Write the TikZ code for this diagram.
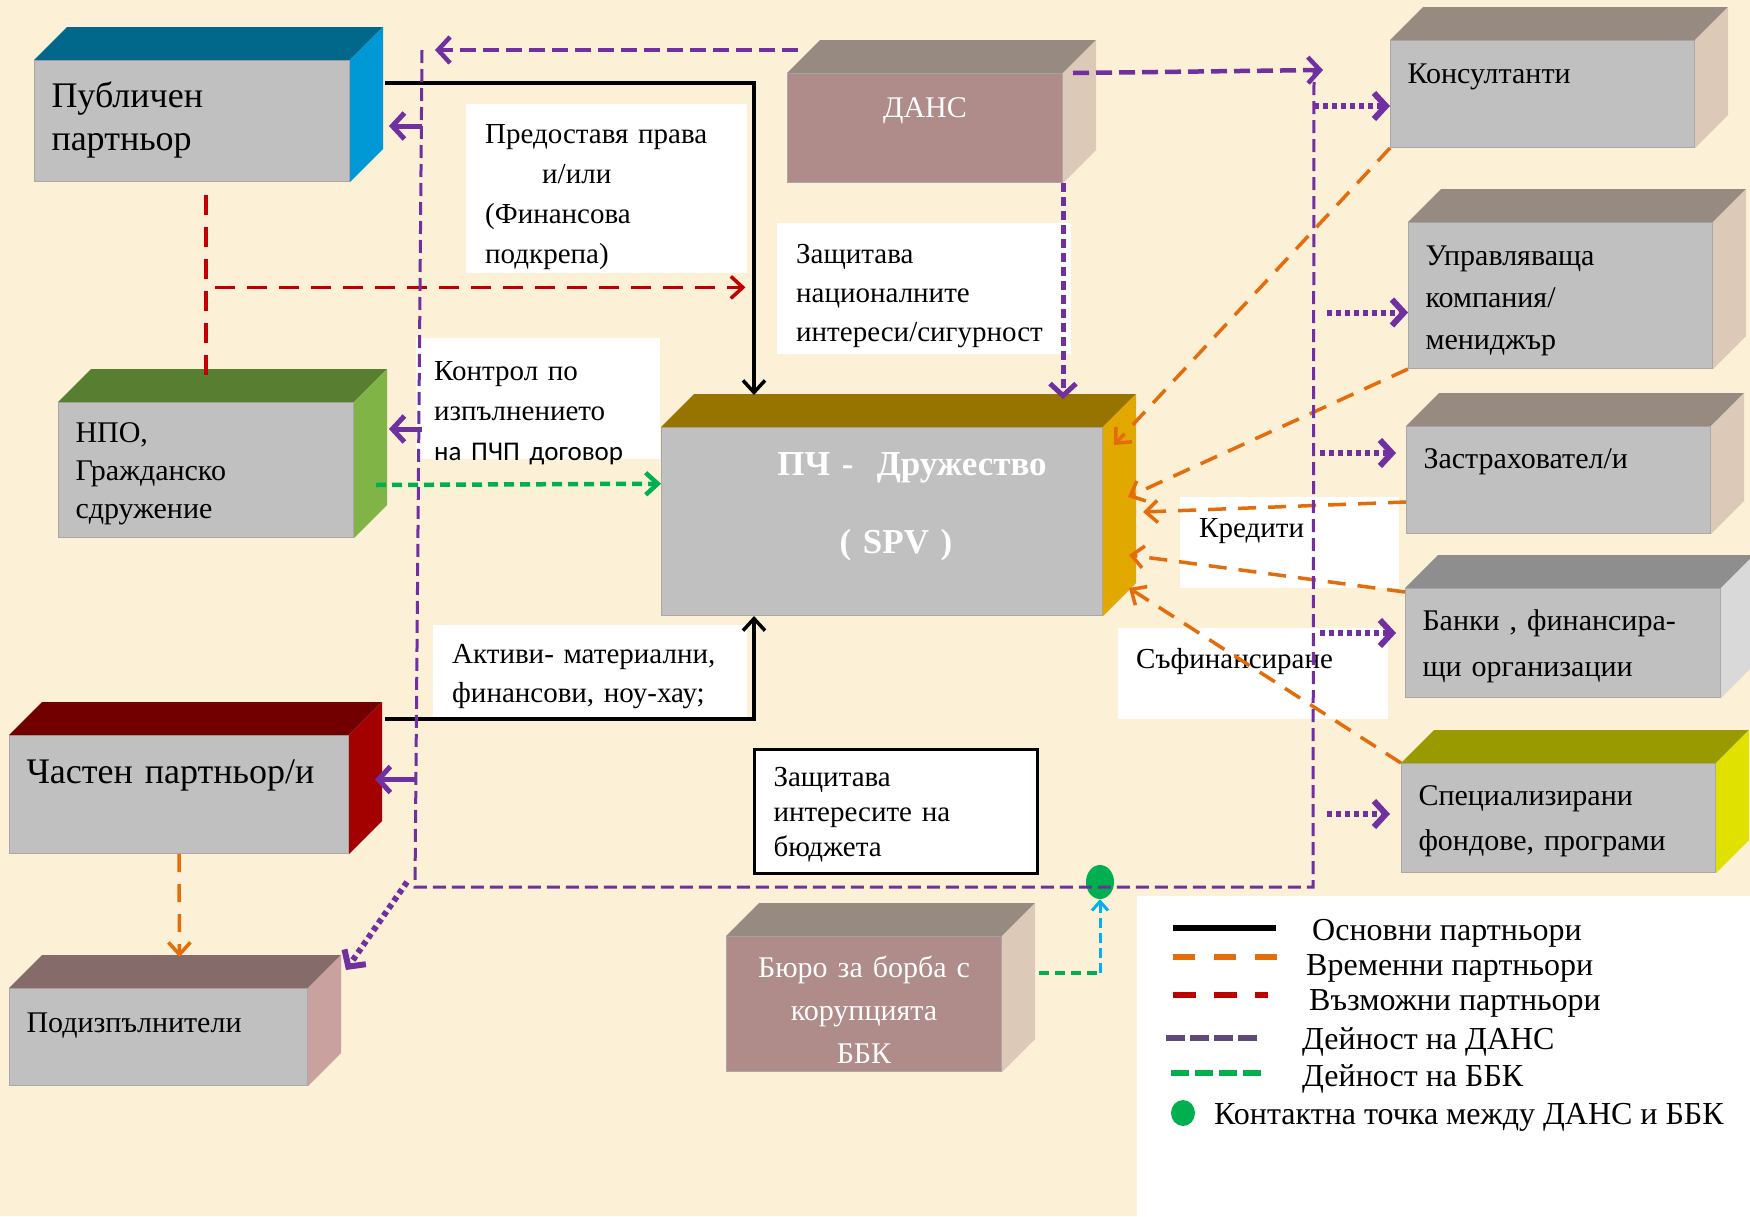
\documentclass[tikz,border=0pt]{standalone}
\usepackage{fontspec}
\setmainfont{Liberation Serif}
\newfontfamily\carlito{Carlito}
\usetikzlibrary{positioning}
\usetikzlibrary{calc}
\usetikzlibrary{arrows.meta}
\usetikzlibrary{shapes.geometric}

\definecolor{paper}{HTML}{FCF0D6}
\definecolor{boxgray}{HTML}{C0C0C0}
\definecolor{boxedge}{HTML}{A8A8A8}
\definecolor{pubtop}{HTML}{01688C}
\definecolor{pubside}{HTML}{0099D5}
\definecolor{rosefront}{HTML}{AF8B8A}
\definecolor{rosetop}{HTML}{978A80}
\definecolor{roseside}{HTML}{DDC9B8}
\definecolor{banktop}{HTML}{8E8E8E}
\definecolor{bankside}{HTML}{D9D9D9}
\definecolor{spectop}{HTML}{999900}
\definecolor{specside}{HTML}{E1E100}
\definecolor{spvtop}{HTML}{977400}
\definecolor{spvside}{HTML}{E1A900}
\definecolor{npotop}{HTML}{587E32}
\definecolor{nposide}{HTML}{80B446}
\definecolor{chasttop}{HTML}{720000}
\definecolor{chastside}{HTML}{A30000}
\definecolor{podiztop}{HTML}{866B6B}
\definecolor{podizside}{HTML}{C9A19F}
\definecolor{dansviolet}{HTML}{7030A0}
\definecolor{legviolet}{HTML}{5F497A}
\definecolor{temporange}{HTML}{E46C0A}
\definecolor{possred}{HTML}{C00000}
\definecolor{bbkgreen}{HTML}{00B050}
\definecolor{contactcyan}{HTML}{00B0F0}

\begin{document}
\begin{tikzpicture}
            [
                x=1pt, y=1pt,
                box/.style={rectangle, fill=boxgray, draw=boxedge, line width=1pt, anchor=north west, inner xsep=17pt, inner ysep=0pt, align=left, text height=21pt, font=\fontsize{30}{40}\selectfont},
                bigbox/.style={box, font=\fontsize{36}{43}\selectfont, text height=25pt},
                rosebox/.style={box, fill=rosefront, text=white, align=center, font=\fontsize{30}{43}\selectfont},
                note/.style={rectangle, fill=white, anchor=north west, inner xsep=19pt, inner ysep=0pt, align=left, text height=21pt, font=\fontsize{29}{40}\selectfont},
                legtext/.style={anchor=base west, inner sep=0pt, font=\fontsize{32}{36}\selectfont},
                main/.style={black, line width=3.5pt, -{Straight Barb[length=12pt,width=22pt]}},
                temp/.style={temporange, line width=3.5pt, dash pattern=on 18pt off 12pt, -{Straight Barb[length=12pt,width=22pt]}},
                possible/.style={possred, line width=3.5pt, dash pattern=on 20pt off 12pt},
                bbkline/.style={bbkgreen, line width=4.5pt, dash pattern=on 10pt off 6pt},
                ckline/.style={contactcyan, line width=3pt, dash pattern=on 10pt off 5pt, -{Straight Barb[length=9pt,width=16pt]}},
                dans/.style={dansviolet, line width=3pt, dash pattern=on 13pt off 6pt},
                dansthick/.style={dansviolet, line width=4.5pt, dash pattern=on 16pt off 7pt, -{Straight Barb[length=12pt,width=26pt]}},
                dansdot/.style={dansviolet, line width=6pt, dash pattern=on 5pt off 4pt, -{Straight Barb[length=12pt,width=26pt]}},
                dansarrow/.style={dansviolet, line width=5pt, -{Straight Barb[length=12pt,width=26pt]}}
            ]
            \useasboundingbox (0,0) rectangle (1750,-1216);
            \fill[paper] (0,0) rectangle (1750,-1216);
            %notes
            \node[note, text width=243pt, minimum height=169pt, text depth=112pt] at (466,-104)  (prava)    {Предоставя права\\\hspace*{57pt}и/или\\(Финансова\\подкрепа)};
            \node[note, text width=256pt, minimum height=131pt, text depth=72pt, font=\fontsize{29}{39}\selectfont] at (777,-223) (natsec) {Защитава\\националните\\\mbox{интереси/сигурност}};
            \node[note, text width=206pt, minimum height=121pt, text depth=58pt, inner xsep=18pt, text width=208pt] at (416,-338) (kontrol) {Контрол по\\изпълнението\\\mbox{\carlito\fontsize{27}{40}\selectfont на ПЧП договор}};
            \node[note, text width=276pt, minimum height=93pt, text depth=38pt, font=\fontsize{29}{39}\selectfont] at (433,-625) (aktivi) {\mbox{Активи- материални,}\\\mbox{финансови, ноу-хау;}};
            \node[note, draw=black, line width=3pt, text width=245pt, minimum height=124pt, text depth=71pt, font=\fontsize{29}{35}\selectfont] at (753,-748) (budget) {Защитава\\интересите на\\бюджета};
            \node[note, text width=181pt, minimum height=91pt, text depth=32pt] at (1180,-497) (krediti) {Кредити};
            \node[note, text width=232pt, minimum height=91pt, text depth=32pt, inner xsep=18pt, text width=234pt] at (1118,-628) (sufin) {Съфинансиране};
            \node[rectangle, fill=white, anchor=north west, minimum width=620pt, minimum height=330pt, inner sep=0pt] at (1137,-896) (legend) {};
            %boxes
            \node[bigbox, text width=281pt, minimum height=121pt, text depth=52pt] at (34,-60)     (pub)    {Публичен\\партньор};
            \node[rosebox, text width=241pt, minimum height=109pt, text depth=42pt] at (787,-73)   (dans)   {ДАНС};
            \node[box, text width=270pt, minimum height=107pt, text depth=42pt] at (1390,-40)      (kons)   {Консултанти};
            \node[box, text width=270pt, minimum height=146pt, text depth=81pt, font=\fontsize{30}{42}\selectfont] at (1408,-222) (upr) {Управляваща\\компания/\\мениджър};
            \node[box, text width=270pt, minimum height=107pt, text depth=44pt] at (1406,-426)     (zastr)  {Застраховател/и};
            \node[box, text width=281pt, minimum height=109pt, text depth=46pt, font=\fontsize{30}{46}\selectfont] at (1405,-588) (banki) {\mbox{Банки , финансира-}\\щи организации};
            \node[box, text width=280pt, minimum height=109pt, text depth=46pt, font=\fontsize{30}{45}\selectfont] at (1401,-763) (spec) {Специализирани\\фондове, програми};
            \node[rosebox, fill=boxgray, text width=407pt, minimum height=188pt, text height=25pt, text depth=117pt, font=\fontsize{35}{78}\bfseries] at (661,-427) (spv) {\hspace*{60pt}ПЧ -\ \ Дружество\\\hspace*{28pt}( SPV )};
            \node[box, text width=261pt, minimum height=135pt, text depth=76pt, font=\fontsize{30}{38}\selectfont] at (58,-402) (npo) {НПО,\\Гражданско\\сдружение};
            \node[bigbox, text width=305pt, minimum height=118pt, text height=24pt, text depth=46pt] at (9,-735) (chast) {\mbox{Частен партньор/и}};
            \node[box, text width=264pt, minimum height=97pt, text depth=30pt] at (9,-988)         (podiz)  {Подизпълнители};
            \node[rosebox, text width=241pt, minimum height=135pt, text depth=74pt] at (726,-936)  (bbk)    {Бюро за борба с\\корупцията\\ББК};
            \foreach \nm/\tc/\sc in {pub/pubtop/pubside, dans/rosetop/roseside, kons/rosetop/roseside, upr/rosetop/roseside, zastr/rosetop/roseside, banki/banktop/bankside, spec/spectop/specside, spv/spvtop/spvside, npo/npotop/nposide, chast/chasttop/chastside, podiz/podiztop/podizside, bbk/rosetop/roseside}
            {
                \fill[\tc] (\nm.north west) -- ++(33,33) -- ([shift={(33,33)}]\nm.north east) -- (\nm.north east) -- cycle;
                \fill[\sc] (\nm.north east) -- ++(33,33) -- ([shift={(33,33)}]\nm.south east) -- (\nm.south east) -- cycle;
            }
            \node[ellipse, fill=bbkgreen, minimum width=28pt, minimum height=34pt, inner sep=0pt] at (1100,-882) (contact) {};
            %bus of ДАНС
            \coordinate (dl)  at (422,-50);
            \coordinate (dlb) at (415,-887);
            \coordinate (drb) at (1313,-887);
            \coordinate (dr)  at (1314,-70);
            %arrows
            \draw[main] ([xshift=35pt,yshift=-23pt]pub.north east) -| ([xshift=93pt,yshift=32pt]spv.north west);
            \draw[main] ([xshift=36pt,yshift=16pt]chast.north east) -| ([xshift=93pt]spv.south west);
            \draw[possible] ([yshift=-13pt]pub.south -| npo.north) -- ([yshift=24pt]npo.north);
            \draw[possible, -{Straight Barb[length=12pt,width=22pt]}] ([xshift=9pt,yshift=-14pt]prava.south east -| npo.north) -- ([xshift=-2pt,yshift=-14pt]prava.south east);
            \draw[bbkline, -{Straight Barb[length=12pt,width=22pt]}] ([xshift=22pt,yshift=-15pt]npo.east) -- ($(spv.north west)!0.3!(spv.south west)$);
            \draw[bbkline] ([xshift=37pt,yshift=31pt]bbk.east) -- ([yshift=31pt]bbk.east -| contact.south);
            \draw[ckline] ([yshift=31pt]bbk.east -| contact.south) -- (contact.south);
            \draw[temp] (chast.south) -- ([xshift=21pt,yshift=31pt]podiz.north);
            \draw[temp] (kons.south west) -- ([xshift=11pt,yshift=-18pt]spv.north east);
            \draw[temp] (upr.south west) -- ([xshift=25pt,yshift=-70pt]spv.north east);
            \draw[temp] ([yshift=-22pt]zastr.west) -- ([xshift=40pt,yshift=-85pt]spv.north east);
            \draw[temp] ([yshift=-4pt]banki.north west) -- ([xshift=26pt,yshift=-128pt]spv.north east);
            \draw[temp] (spec.north west) -- ([xshift=26pt,yshift=-161pt]spv.north east);
            \draw[dans] (dl) -- (dlb) -- (drb) -- (dr);
            \draw[dansthick] ([xshift=11pt,yshift=23pt]dans.north west) -- ([xshift=13pt]dl);
            \draw[dansthick] ([xshift=10pt]dans.north east) -- ([xshift=9pt]dr);
            \draw[dansdot, line width=5pt, dash pattern=on 9pt off 5pt] (dans.south east) -- ([xshift=-40pt,yshift=28pt]spv.north east);
            \draw[dansdot] ([yshift=-12pt]kons.west -| dr) -- ([yshift=-12pt]kons.west);
            \draw[dansdot] ([xshift=13pt,yshift=-17pt]upr.west -| dr) -- ([yshift=-17pt]upr.west);
            \draw[dansdot] ([xshift=6pt,yshift=27pt]zastr.west -| dr) -- ([xshift=-10pt,yshift=27pt]zastr.west);
            \draw[dansdot] ([xshift=6pt,yshift=10pt]banki.west -| dr) -- ([xshift=-9pt,yshift=10pt]banki.west);
            \draw[dansdot] ([xshift=13pt,yshift=4pt]spec.west -| dr) -- ([xshift=-11pt,yshift=4pt]spec.west);
            \draw[dansarrow] ([yshift=-5pt]pub.east -| dl) -- ([xshift=39pt,yshift=-5pt]pub.east);
            \draw[dansarrow] ([yshift=41pt]npo.east -| dl) -- ([xshift=35pt,yshift=41pt]npo.east);
            \draw[dansarrow] ([yshift=15pt]chast.east -| dlb) -- ([xshift=26pt,yshift=15pt]chast.east);
            \draw[dansdot] ([xshift=-8pt,yshift=5pt]dlb) -- ([xshift=38pt,yshift=18pt]podiz.north east);
            %legend
            \draw[black, line width=6pt] ([xshift=36pt,yshift=-32pt]legend.north west) -- ++(103,0);
            \draw[temporange, line width=6pt, dash pattern=on 22pt off 19pt] ([xshift=36pt,yshift=-61pt]legend.north west) -- ++(106,0);
            \draw[possred, line width=6pt, dash pattern=on 23pt off 18pt] ([xshift=36pt,yshift=-99pt]legend.north west) -- ++(95,0);
            \draw[legviolet, line width=6pt, dash pattern=on 19pt off 5pt] ([xshift=29pt,yshift=-142pt]legend.north west) -- ++(91,0);
            \draw[bbkgreen, line width=6pt, dash pattern=on 18pt off 6pt] ([xshift=34pt,yshift=-177pt]legend.north west) -- ++(91,0);
            \fill[bbkgreen] ([xshift=46pt,yshift=-217pt]legend.north west) ellipse (12pt and 13pt);
            \node[legtext] at (1312,-940)  (lgmain)    {Основни партньори};
            \node[legtext] at (1306,-975)  (lgtemp)    {Временни партньори};
            \node[legtext] at (1309,-1010) (lgposs)    {Възможни партньори};
            \node[legtext] at (1302,-1049) (lgdans)    {Дейност на ДАНС};
            \node[legtext] at (1302,-1086) (lgbbk)     {Дейност на ББК};
            \node[legtext] at (1214,-1124) (lgcontact) {Контактна точка между ДАНС и ББК};
        \end{tikzpicture}
\end{document}
